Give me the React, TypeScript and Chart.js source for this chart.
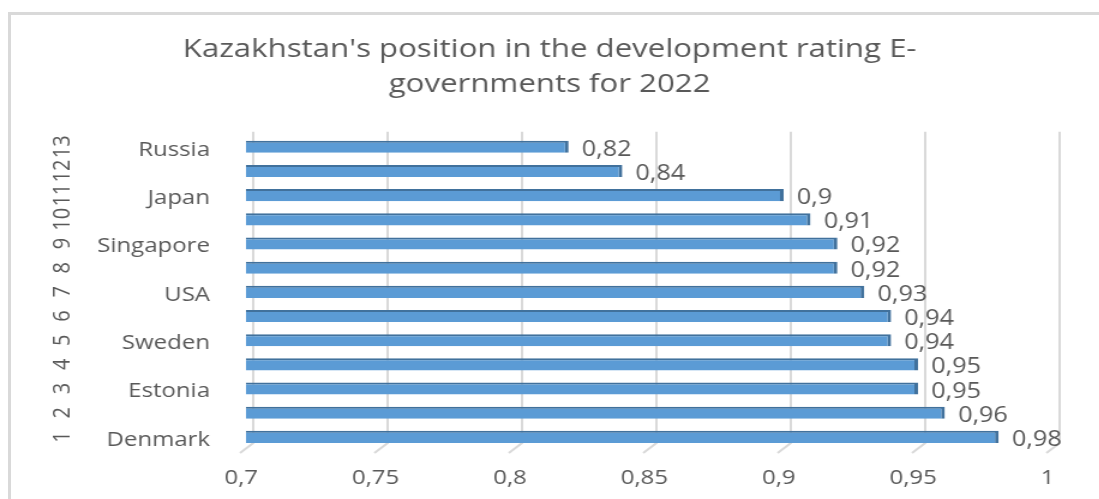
import React, { useEffect, useRef } from 'react';
import { Chart, registerables } from 'chart.js';

Chart.register(...registerables);

// ---- data ----
const ranks = ['1', '2', '3', '4', '5', '6', '7', '8', '9', '10', '11', '12', '13'];
const countries = ['Denmark', '', 'Estonia', '', 'Sweden', '', 'USA', '', 'Singapore', '', 'Japan', '', 'Russia'];
const scores = [0.98, 0.96, 0.95, 0.95, 0.94, 0.94, 0.93, 0.92, 0.92, 0.91, 0.9, 0.84, 0.82];
const titleLines = ["Kazakhstan's position in the development rating E-", 'governments for 2022'];
const xMin = 0.7;
const xMax = 1;
const xStep = 0.05;

// ---- layout ----
const SX = 1.2;
const W = Math.round(1099 / SX);
const H = 499;
const FONT = "'Open Sans', 'DejaVu Sans', sans-serif";
const TEXT = '#595959';

const fmt = (v: number) => String(Math.round(v * 100) / 100).replace('.', ',');

const backGridPlugin = {
  id: 'backGrid',
  beforeDatasetsDraw(chart: any) {
    const { ctx, chartArea, scales } = chart;
    const xs = scales.x;
    ctx.save();
    ctx.strokeStyle = '#d9d9d9';
    ctx.lineWidth = 2;
    xs.ticks.forEach((t: any) => {
      const px = xs.getPixelForValue(t.value);
      ctx.beginPath();
      ctx.moveTo(px + 6, chartArea.top - 3);
      ctx.lineTo(px + 6, chartArea.bottom - 6);
      ctx.lineTo(px - 5, chartArea.bottom + 4);
      ctx.stroke();
    });
    ctx.restore();
  },
};

const valueLabelPlugin = {
  id: 'valueLabels',
  afterDatasetsDraw(chart: any) {
    const { ctx } = chart;
    const meta = chart.getDatasetMeta(0);
    ctx.save();
    ctx.font = `21px ${FONT}`;
    ctx.fillStyle = TEXT;
    ctx.textAlign = 'left';
    ctx.textBaseline = 'middle';
    meta.data.forEach((bar: any, i: number) => {
      ctx.fillText(fmt(scores[i]), bar.x + 11, bar.y + 3);
    });
    ctx.restore();
  },
};

const rankPlugin = {
  id: 'rankLabels',
  afterDraw(chart: any) {
    const { ctx, scales } = chart;
    const ys = scales.y;
    ctx.save();
    ctx.font = `20px ${FONT}`;
    ctx.fillStyle = TEXT;
    ctx.textAlign = 'center';
    ctx.textBaseline = 'middle';
    ranks.forEach((r, i) => {
      const y = ys.getPixelForValue(i);
      ctx.save();
      ctx.translate(52, y);
      ctx.rotate(-Math.PI / 2);
      ctx.fillText(r, 0, 0);
      ctx.restore();
    });
    ctx.restore();
  },
};

export default function App() {
  const ref = useRef<HTMLCanvasElement | null>(null);

  useEffect(() => {
    if (!ref.current) return;
    const chart = new Chart(ref.current, {
      type: 'bar',
      data: {
        labels: countries,
        datasets: [
          {
            data: scores,
            backgroundColor: '#5b9bd5',
            borderColor: '#41719c',
            borderWidth: { top: 2, right: 3, bottom: 0, left: 0 },
            borderSkipped: false,
            categoryPercentage: 1,
            barPercentage: 0.5,
          },
        ],
      },
      options: {
        indexAxis: 'y',
        responsive: false,
        devicePixelRatio: 1,
        animation: false,
        layout: { padding: 0 },
        plugins: {
          legend: { display: false },
          tooltip: { enabled: false },
          title: {
            display: true,
            text: titleLines,
            color: TEXT,
            font: { family: FONT, size: 26, weight: 'normal', lineHeight: 1.36 },
            padding: { top: 32, bottom: 32 },
          },
        },
        scales: {
          x: {
            type: 'linear',
            min: xMin,
            max: xMax,
            grid: { display: false, drawTicks: false },
            border: { display: false },
            ticks: {
              stepSize: xStep,
              color: TEXT,
              font: { family: FONT, size: 20 },
              padding: 17,
              labelOffset: -4,
              callback: (v: any) => fmt(Number(v)),
            },
            afterFit: (s: any) => {
              s.height = 50;
            },
          },
          y: {
            type: 'category',
            reverse: true,
            grid: { display: false, drawTicks: false },
            border: { display: false },
            ticks: {
              autoSkip: false,
              color: TEXT,
              font: { family: FONT, size: 20 },
              padding: 30,
              labelOffset: 3,
            },
            afterFit: (s: any) => {
              s.width = 205;
            },
          },
          yRightSpace: {
            type: 'category',
            position: 'right',
            labels: countries,
            grid: { display: false, drawTicks: false },
            border: { display: false },
            ticks: { display: false },
            afterFit: (s: any) => {
              s.width = 39;
            },
          },
        },
      },
      plugins: [backGridPlugin, valueLabelPlugin, rankPlugin],
    } as any);
    return () => chart.destroy();
  }, []);

  return (
    <div
      style={{
        position: 'fixed',
        left: 0,
        top: 0,
        width: 1099,
        height: 499,
        overflow: 'hidden',
        background: '#ffffff',
      }}
    >
      <div
        style={{
          position: 'absolute',
          left: 8,
          top: 12,
          width: 1200,
          height: 600,
          border: '3px solid #d9d9d9',
        }}
      />
      <div
        style={{
          position: 'absolute',
          left: 0,
          top: 0,
          width: W,
          height: H,
          transform: `scaleX(${SX})`,
          transformOrigin: '0 0',
        }}
      >
        <canvas ref={ref} width={W} height={H} style={{ width: W, height: H, display: 'block' }} />
      </div>
    </div>
  );
}
